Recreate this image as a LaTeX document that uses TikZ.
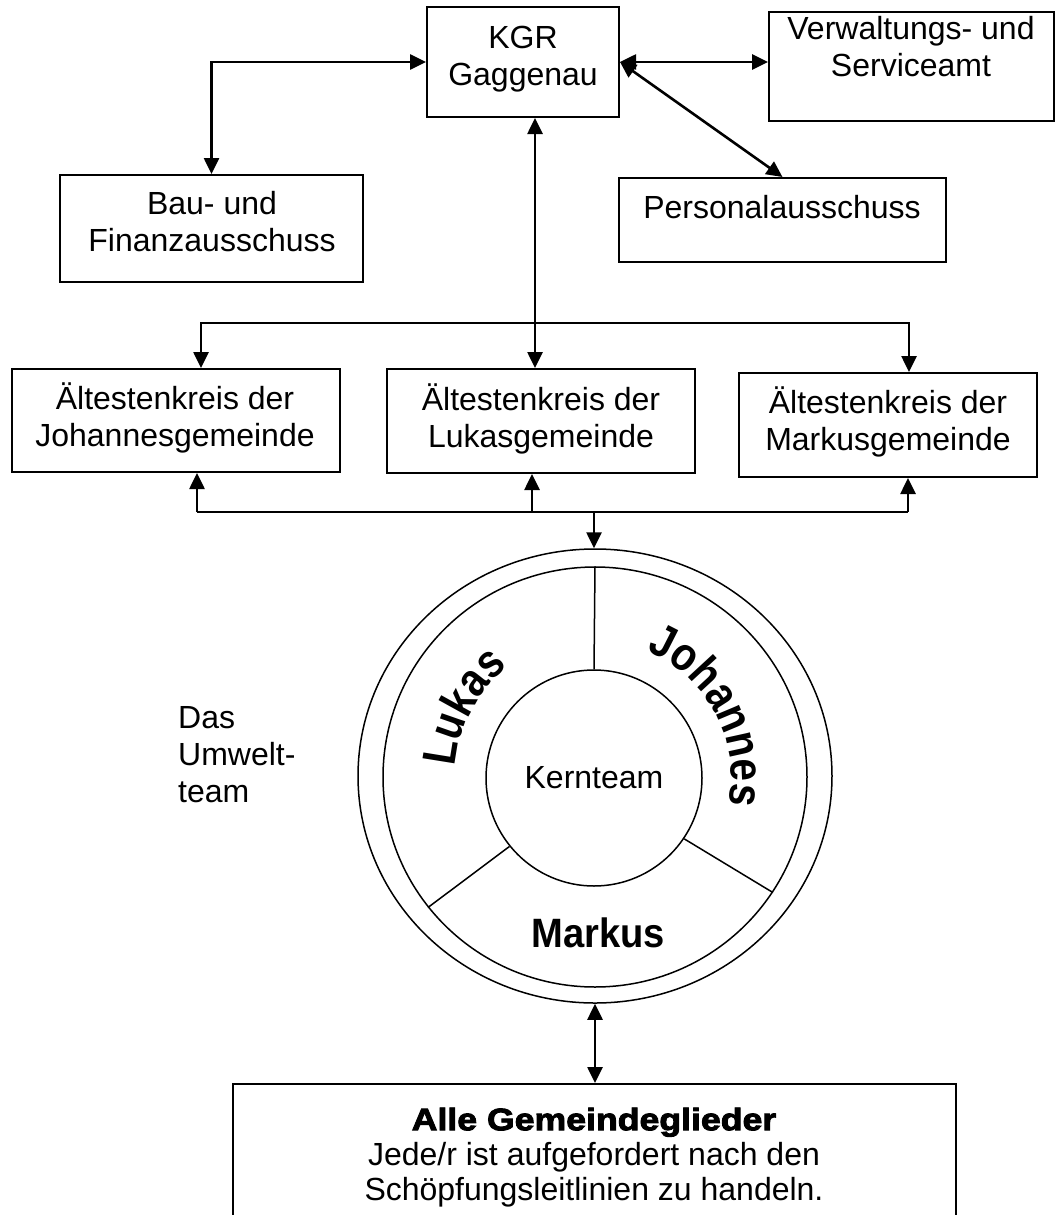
\documentclass[tikz,border=0pt]{standalone}
\usepackage{fontspec}
\setmainfont{Liberation Sans}
\newfontfamily\blackfont{Liberation Sans Bold}[FakeBold=3,FakeStretch=1.15]
\newfontfamily\arcfont{Liberation Sans Bold}[FakeStretch=0.93]
\newfontfamily\arcfontb{Liberation Sans Bold}[FakeStretch=0.86]
\usetikzlibrary{arrows.meta,shapes.geometric,decorations.text}
\newcommand\topstrut{\rule{0pt}{30pt}}
\begin{document}
\begin{tikzpicture}[x=1pt,y=1pt,
  >={Triangle[length=16pt,width=15pt]},
  box/.style={draw, line width=2pt, inner sep=0pt, rectangle},
  lbl/.style={anchor=north, inner sep=0pt, align=center, font=\fontsize{32}{37}\selectfont},
  conn/.style={line width=2.6pt},
  ring/.style={draw, line width=1.5pt, ellipse, inner sep=0pt},
  arctext/.style={decorate, decoration={text along path, text align=center, text={|\arcfontb\fontsize{47}{47}\selectfont|#1}}}]
\useasboundingbox (0,0) rectangle (1055,-1215);

% boxes
\node[box, minimum width=192pt, minimum height=110pt] (kgr) at (523,-62) {};
\node[box, minimum width=285pt, minimum height=109pt] (verw) at (911.5,-66.5) {};
\node[box, minimum width=327pt, minimum height=84pt] (pers) at (782.5,-220) {};
\node[box, minimum width=303pt, minimum height=107pt] (bau) at (211.5,-228.5) {};
\node[box, minimum width=328pt, minimum height=103pt] (joh) at (176,-420.5) {};
\node[box, minimum width=308pt, minimum height=104pt] (luk) at (541,-421) {};
\node[box, minimum width=298pt, minimum height=104pt] (mar) at (888,-425) {};
\node[box, minimum width=723pt, minimum height=134pt, anchor=north] (all) at (594.5,-1083) {};

% labels
\node[lbl] (kgrt) at (523,-18) {\topstrut KGR\\Gaggenau};
\node[lbl] (verwt) at (911,-9) {\topstrut Verwaltungs- und\\Serviceamt};
\node[lbl] (perst) at (782,-188) {\topstrut Personalausschuss};
\node[lbl] (baut) at (212,-184) {\topstrut Bau- und\\Finanzausschuss};
\node[lbl] (joht) at (175,-379) {\topstrut Ältestenkreis der\\Johannesgemeinde};
\node[lbl] (lukt) at (541,-380) {\topstrut Ältestenkreis der\\Lukasgemeinde};
\node[lbl] (mart) at (888,-383) {\topstrut Ältestenkreis der\\Markusgemeinde};
\node[lbl, anchor=north west, align=left] (das) at (178,-698) {\topstrut Das\\Umwelt-\\team};
\node[lbl, font=\fontsize{32}{35}\selectfont] (allt) at (594,-1100)
  {\topstrut{\blackfont\fontsize{31}{35}\selectfont Alle Gemeindeglieder}\\Jede/r ist aufgefordert nach den\\Schöpfungsleitlinien zu handeln.};

% circle
\node[ring, minimum width=474pt, minimum height=454pt] (outer) at (595,-776) {};
\node[ring, minimum width=424pt, minimum height=420pt] (inner) at (595,-777) {};
\node[draw, line width=1.5pt, circle, minimum size=216pt, inner sep=0pt,
      font=\fontsize{32}{37}\selectfont] (kern) at (594,-778) {Kernteam};
\draw[line width=1.5pt] (kern.90) -- (inner.90);
\draw[line width=1.5pt] (kern.219) -- (inner.218);
\draw[line width=1.5pt] (kern.326) -- (inner.327);
\path[arctext=Lukas] (595,-777) ++(202:140) arc[start angle=202, end angle=102, radius=140];
\path[arctext=Johannes] (595,-777) ++(80:136) arc[start angle=80, end angle=-24, radius=136];
\node[font=\arcfont\fontsize{41}{41}\selectfont, inner sep=0pt] (markus) at (598,-933) {Markus};

% connectors
\draw[conn,<->] (kgr.west) -| (bau.north);
\draw[conn,<->] (kgr.east) -- (kgr.east -| verw.west);
\draw[conn,<->] (kgr.east) -- (pers.north);
\coordinate (spine) at (535,-323);
\coordinate (jtop) at (201,-323);
\coordinate (mtop) at (909,-323);
\draw[conn,<->] (kgr.south -| spine) -- (luk.north -| spine);
\draw[conn,->] (spine) -- (jtop) -- (jtop |- joh.north);
\draw[conn,->] (spine) -- (mtop) -- (mtop |- mar.north);
\coordinate (jbot) at (197,-512);
\coordinate (lbot) at (532,-512);
\coordinate (mbot) at (908,-512);
\coordinate (cbot) at (594,-512);
\draw[conn] (jbot) -- (mbot);
\draw[conn,->] (jbot) -- (jbot |- joh.south);
\draw[conn,->] (lbot) -- (lbot |- luk.south);
\draw[conn,->] (mbot) -- (mbot |- mar.south);
\draw[conn,->] (cbot) -- (cbot |- outer.north);
\draw[conn,<->] (outer.south) -- (outer.south |- all.north);
\end{tikzpicture}
\end{document}
